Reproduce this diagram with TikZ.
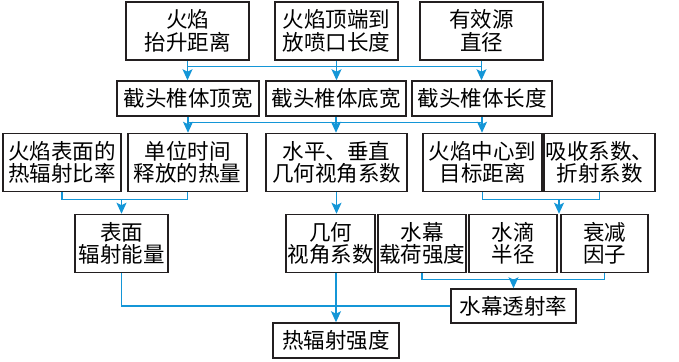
\documentclass[tikz,border=0pt]{standalone}
\usepackage{fontspec}
\newfontfamily\cjk{Noto Sans CJK SC}
\usetikzlibrary{arrows.meta,calc}
\definecolor{liucheng}{RGB}{20,150,215}
\definecolor{kuangxian}{RGB}{35,31,32}

\begin{document}
\begin{tikzpicture}[x=1pt,y=-1pt,
    kuang/.style={draw=kuangxian,line width=1.5pt,inner sep=0pt,align=center,
        font=\cjk\fontsize{21.5}{22.5}\selectfont},
    dan/.style={kuang,minimum height=35pt},
    shuang/.style={kuang,minimum height=58pt},
    liu/.style={draw=liucheng,line width=1.2pt},
    jian/.style={liu,-{Stealth[length=11pt,width=10pt,inset=2.5pt]}}]
    \useasboundingbox (0,0) rectangle (679,361);

    % 第一层
    \node[shuang,minimum width=123pt] (huoyan) at (187.5,31) {火焰\\抬升距离};
    \node[shuang,minimum width=123pt] (pengkou) at (336.5,31) {火焰顶端到\\放喷口长度};
    \node[shuang,minimum width=123pt] (zhijing) at (481.5,31) {有效源\\直径};

    % 截头椎体
    \node[dan,minimum width=142pt] (dingkuan) at (188,98.5) {截头椎体顶宽};
    \node[dan,minimum width=140pt] (dikuan) at (336,98.5) {截头椎体底宽};
    \node[dan,minimum width=140pt] (changdu) at (482,98.5) {截头椎体长度};

    % 第三层
    \node[shuang,minimum width=118pt] (bilv) at (62,162.5) {火焰表面的\\热辐射比率};
    \node[shuang,minimum width=119pt] (reliang) at (187.5,162.5) {单位时间\\释放的热量};
    \node[shuang,minimum width=141pt] (shijiao) at (336.5,162.5) {水平、垂直\\几何视角系数};
    \node[shuang,minimum width=119pt] (juli) at (482.5,162.5) {火焰中心到\\目标距离};
    \node[shuang,minimum width=111pt] (xishou) at (599.5,162.5) {吸收系数、\\折射系数};

    % 第四层
    \node[shuang,minimum width=93pt] (nengliang) at (121.5,243.5) {表面\\辐射能量};
    \node[shuang,minimum width=89pt] (jihe) at (330.5,243.5) {几何\\视角系数};
    \node[shuang,minimum width=88pt] (zaihe) at (422,243.5) {水幕\\载荷强度};
    \node[shuang,minimum width=88pt] (banjing) at (513,243.5) {水滴\\半径};
    \node[shuang,minimum width=87pt] (shuaijian) at (604.5,243.5) {衰减\\因子};

    % 结果
    \node[dan,minimum width=125pt,minimum height=34pt] (toushe) at (513.5,306) {水幕透射率};
    \node[dan,minimum width=126pt] (qiangdu) at (336,340.5) {热辐射强度};

    % 第一层到截头椎体
    \draw[jian] (huoyan.south) -- (huoyan.south |- dingkuan.north);
    \draw[jian] (pengkou.south) -- (pengkou.south |- dikuan.north);
    \draw[jian] (zhijing.south) -- (zhijing.south |- changdu.north);
    \draw[liu] ($(huoyan.south)!0.3!(dingkuan.north)$) -- ($(zhijing.south)!0.3!(changdu.north)$);

    % 截头椎体到第三层
    \draw[jian] (dingkuan.south) -- (dingkuan.south |- reliang.north);
    \draw[jian] (dikuan.south) -- (dikuan.south |- shijiao.north);
    \draw[jian] (changdu.south) -- (changdu.south |- juli.north);
    \draw[liu] ($(dingkuan.south)!0.35!(reliang.north)$) -- ($(changdu.south)!0.35!(juli.north)$);

    % 第三层到第四层
    \draw[liu] (bilv.south) -- ++(0,7) coordinate (hui1) -| (reliang.south);
    \draw[jian] (nengliang.north |- hui1) -- (nengliang.north);
    \draw[jian] (shijiao.south) -- (shijiao.south |- jihe.north);
    \draw[liu] (juli.south) -- ++(0,7) coordinate (hui2) -| (xishou.south);
    \coordinate (jianxi) at ($(banjing.north east)!0.5!(shuaijian.north west)$);
    \draw[jian] (jianxi |- hui2) -- (jianxi);

    % 水幕透射率
    \draw[liu] (zaihe.south) -- ++(0,6) coordinate (hui3) -| (shuaijian.south);
    \draw[jian] (toushe.north |- hui3) -- (toushe.north);

    % 热辐射强度
    \draw[liu] (nengliang.south) |- (toushe.west);
    \draw[jian] (qiangdu.north |- jihe.south) -- (qiangdu.north);
\end{tikzpicture}
\end{document}
